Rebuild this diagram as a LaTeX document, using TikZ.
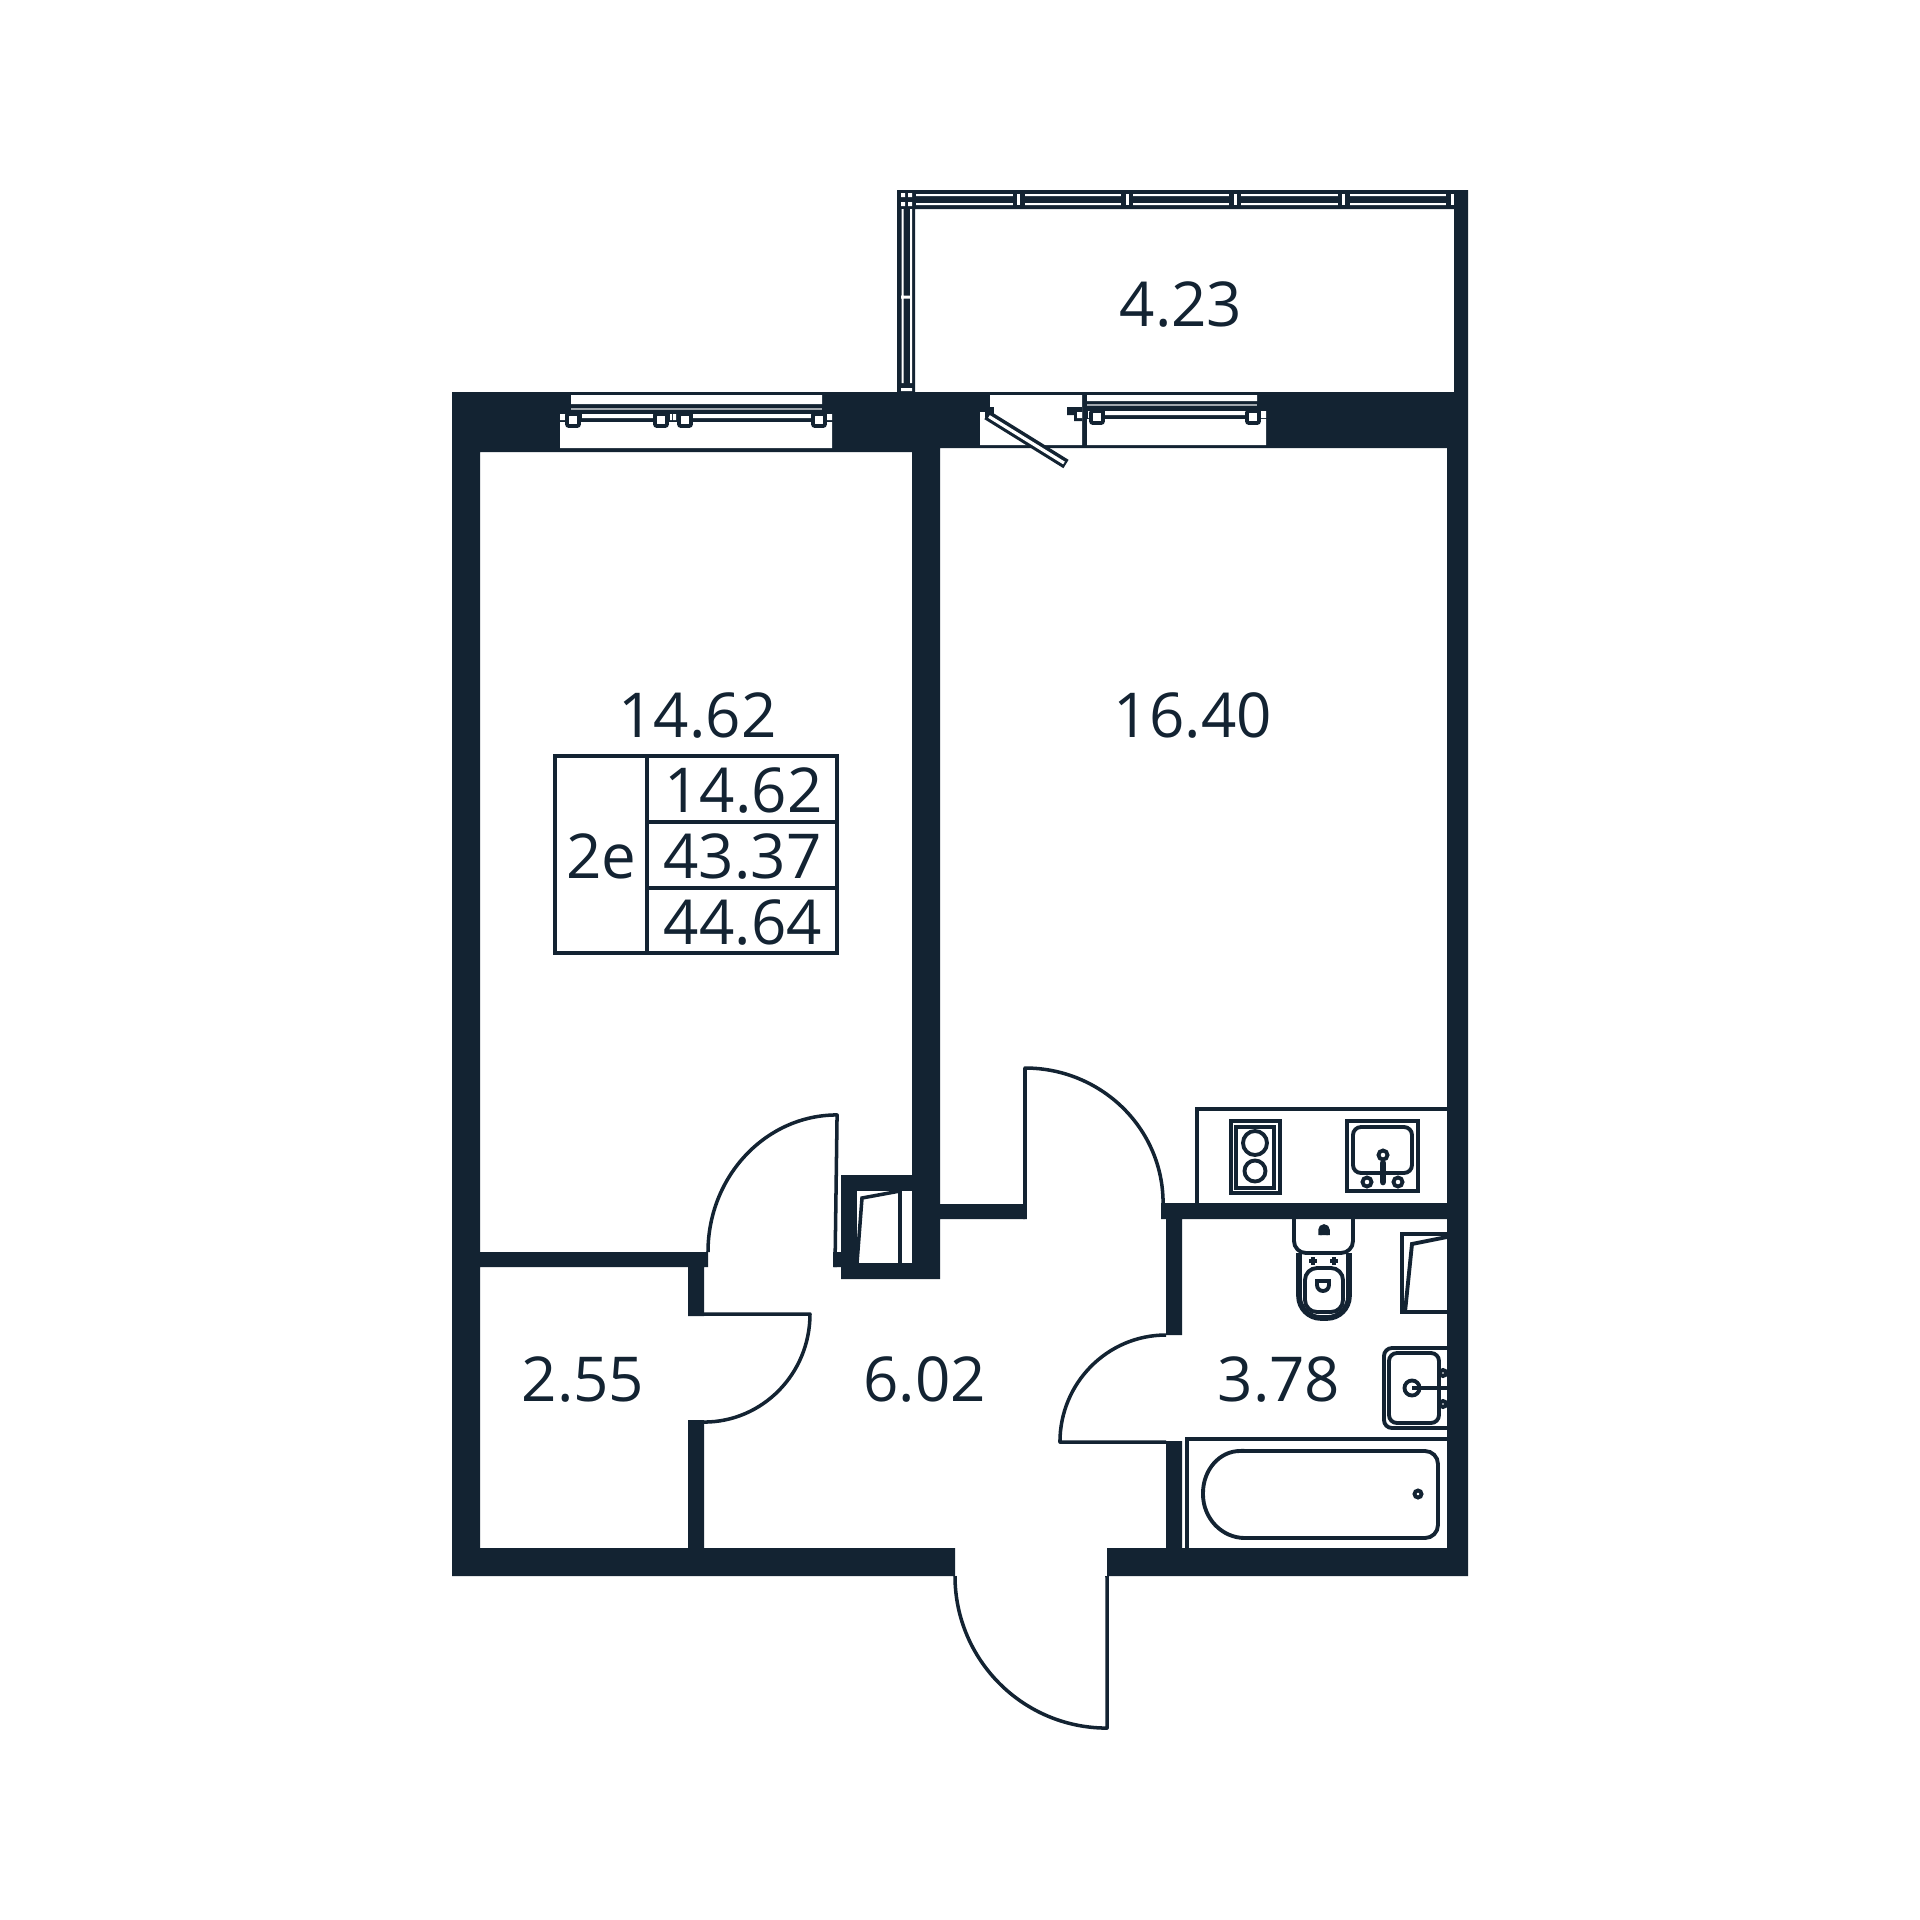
\documentclass[tikz,border=0pt]{standalone}
\usepackage{fontspec}
\setmainfont{Open Sans}
\usetikzlibrary{positioning}
\definecolor{wall}{HTML}{132332}
\tikzstyle{Area} = [text=wall, anchor=base, inner sep=0pt, font=\fontsize{17.6pt}{20pt}\selectfont]
\tikzstyle{Fixture} = [draw=wall, line width=1.1pt]
\tikzstyle{Door} = [draw=wall, line width=1pt, line join=round]
\tikzstyle{Frame} = [draw=wall, fill=white, line width=1.1pt, minimum size=1.2mm, inner sep=0pt, rounded corners=.2mm]

\begin{document}
\begin{tikzpicture}[x=.01cm, y=-.01cm]
    \useasboundingbox (0,0) rectangle (1920,1920);

    % walls
    \fill[wall] (452,392) rectangle (480,1576)
                (452,392) rectangle (940,452)
                (940,392) rectangle (1468,448)
                (1447,392) rectangle (1468,1576)
                (1454,190) rectangle (1468,392)
                (897,190) rectangle (1468,209)
                (897,190) rectangle (915,392)
                (912,452) rectangle (940,1279)
                (841,1175) rectangle (912,1191)
                (841,1175) rectangle (857,1279)
                (841,1263) rectangle (940,1279)
                (940,1204) rectangle (1025,1219)
                (480,1252) rectangle (708,1267)
                (688,1267) rectangle (704,1316)
                (688,1420) rectangle (704,1548)
                (833,1252) rectangle (841,1267)
                (1161,1203) rectangle (1447,1219)
                (1166,1219) rectangle (1182,1335)
                (1166,1441) rectangle (1182,1548)
                (452,1548) rectangle (955,1576)
                (1107,1548) rectangle (1468,1576);

    % left window
    \fill[white] (571,395) rectangle (822,404)
                 (560,422) rectangle (832,448)
                 (582,414) rectangle (653,418)
                 (693,414) rectangle (811,418)
                 (560,414) rectangle (565,420)
                 (827,414) rectangle (832,420)
                 (670,414) rectangle (672,420)
                 (673,414) rectangle (676,420);
    \draw[white!60!wall, line width=.3pt] (571,409) -- (822,409);
    \node[Frame] (leftA) at (573,420) {};
    \node[Frame] (leftB) at (661,420) {};
    \node[Frame] (leftC) at (685,420) {};
    \node[Frame] (leftD) at (819,420) {};

    % balcony door and right window
    \fill[white] (990,395) rectangle (1082,445)
                 (980,418) rectangle (1082,445)
                 (1087,395) rectangle (1257,401)
                 (1087,419) rectangle (1266,445)
                 (1105,411) rectangle (1246,415)
                 (1261,411) rectangle (1266,418)
                 (1088,411) rectangle (1090,418);
    \draw[white!60!wall, line width=.3pt] (1087,405) -- (1257,405);
    \fill[wall] (1067,407) rectangle (1082,415)
                (1074,415) rectangle (1082,421);
    \fill[white] (1077,412) rectangle (1082,418)
                 (980,412) rectangle (985,418);
    \fill[wall] (985,407) rectangle (994,417);
    \draw[wall, line width=1.1pt] (1084.5,392) -- (1084.5,448);
    \node[Frame] (rightA) at (1097,417) {};
    \node[Frame] (rightB) at (1253,417) {};
    \draw[wall, line width=2.8pt] (987,415) -- (1066,464);
    \draw[white, line width=.9pt] (989,416.5) -- (1064,463);

    % balcony glazing
    \fill[white] (901.5,209) rectangle (903.5,383)
                 (910,209) rectangle (912,383)
                 (901,295.5) rectangle (912,298.5)
                 (901,388) rectangle (912,391)
                 (901,193) rectangle (905,197)
                 (908,193) rectangle (912,197)
                 (901,202) rectangle (905,206)
                 (908,202) rectangle (912,206)
                 (916,194) rectangle (1446,196)
                 (916,203) rectangle (1446,205);
    \foreach \x in {1018.5,1127,1235,1343.5,1452}
        \fill[wall] (\x-6,192) rectangle (\x+6,209);
    \foreach \x in {1018.5,1127,1235,1343.5,1452}
        \fill[white] (\x-1.5,194) rectangle (\x+1.5,205);

    % doors
    \draw[Door] (708,1252) arc[start angle=180, end angle=90, x radius=1.29cm, y radius=1.37cm] -- (835,1267);
    \draw[Door] (704,1314) -- (810,1314) arc[start angle=0, end angle=90, x radius=1.06cm, y radius=-1.08cm];
    \draw[Door] (1025,1219) -- (1025,1068) arc[start angle=90, end angle=0, x radius=1.38cm, y radius=1.35cm];
    \draw[Door] (1166,1335) arc[start angle=90, end angle=180, x radius=1.06cm, y radius=1.07cm] -- (1166,1442);
    \draw[Door] (955,1576) arc[start angle=180, end angle=270, radius=1.52cm] -- (1107,1576);

    % closets
    \fill[white] (857,1191) rectangle (912,1263);
    \draw[wall, line width=1pt] (900,1191) -- (900,1263);
    \draw[wall, line width=1pt] (857,1263) -- (862,1198) -- (900,1191);
    \draw[Fixture] (1447,1234) -- (1402,1234) -- (1402,1312) -- (1447,1312);
    \draw[Fixture] (1405,1312) -- (1412,1244) -- (1447,1237);

    % kitchen counter
    \draw[Fixture] (1197,1203) -- (1197,1109) -- (1447,1109);
    \draw[Fixture] (1231,1121) rectangle (1280,1193);
    \draw[Fixture] (1236,1127) rectangle (1274,1188);
    \node[draw=wall, line width=1.1pt, circle, minimum size=2.4mm, inner sep=0pt] (hobA) at (1255,1143) {};
    \node[draw=wall, line width=1.1pt, circle, minimum size=2.1mm, inner sep=0pt] (hobB) at (1255,1171) {};
    \draw[Fixture] (1347,1121) rectangle (1418,1191);
    \draw[Fixture, rounded corners=.8mm] (1353,1127) rectangle (1412,1173);
    \draw[Fixture] (1383,1155) circle[radius=.45mm];
    \draw[wall, line width=1.9pt, line cap=round] (1383,1163) -- (1383,1182);
    \draw[Fixture] (1367,1182) circle[radius=.45mm];
    \draw[Fixture] (1398,1182) circle[radius=.45mm];

    % toilet
    \draw[Fixture, rounded corners=1.2mm] (1294,1219) -- (1294,1253) -- (1353,1253) -- (1353,1219);
    \draw[draw=wall, line width=1.6pt, rounded corners=2.2mm] (1299,1253) -- (1299,1318) -- (1349,1318) -- (1349,1253);
    \draw[Fixture, rounded corners=1.2mm] (1305,1268) rectangle (1343,1312);
    \draw[Fixture] (1317,1281) -- (1329,1281) -- (1329,1285) arc[start angle=0, end angle=-180, radius=.6mm] -- cycle;
    \draw[wall, fill=wall, line width=1pt] (1320,1235) -- (1320,1230) arc[start angle=180, end angle=0, radius=.4mm] -- (1328,1235);
    \foreach \x in {1313,1334}
        \draw[wall, line width=1.2pt] (\x-4,1261) -- (\x+4,1261) (\x,1257) -- (\x,1265);

    % bath sink and bath
    \draw[Fixture, rounded corners=.8mm] (1447,1348) -- (1384,1348) -- (1384,1428) -- (1447,1428);
    \draw[Fixture, rounded corners=.8mm] (1389,1353) rectangle (1439,1423);
    \draw[Fixture] (1412,1388) circle[radius=.75mm];
    \draw[wall, line width=1.4pt] (1412,1388) -- (1447,1388);
    \draw[Fixture] (1443,1373) circle[radius=.3mm];
    \draw[Fixture] (1443,1404) circle[radius=.3mm];
    \draw[Fixture] (1447,1439) -- (1187,1439) -- (1187,1548);
    \draw[Fixture] (1240,1451) -- (1425,1451) arc[start angle=90, end angle=0, radius=1.3mm]
        -- (1438,1525) arc[start angle=0, end angle=-90, radius=1.3mm]
        -- (1245,1538) arc[start angle=-90, end angle=-180, x radius=.42cm, y radius=.44cm]
        -- (1203,1493) arc[start angle=180, end angle=90, x radius=.37cm, y radius=.42cm] -- cycle;
    \draw[Fixture] (1418,1494) circle[radius=.35mm];

    % summary table
    \draw[Fixture] (555,756) rectangle (837,953);
    \draw[Fixture] (647,756) -- (647,953);
    \draw[Fixture] (647,822) -- (837,822);
    \draw[Fixture] (647,888) -- (837,888);

    % areas
    \node[Area] (balcony) at (1181,326)  {4.23};
    \node[Area] (bedroom) at (697.5,737) {14.62};
    \node[Area] (living)  at (1193,737)  {16.40};
    \node[Area] (storage) at (583,1401)  {2.55};
    \node[Area] (hall)    at (924.5,1401) {6.02};
    \node[Area] (bath)    at (1279,1401) {3.78};
    \node[Area] (rooms)   at (601.5,878) {2e};
    \node[Area] (liveTot) at (743.5,812) {14.62};
    \node[Area] (areaTot) at (742.5,878) {43.37};
    \node[Area] (areaAll) at (743,944)   {44.64};
\end{tikzpicture}
\end{document}
